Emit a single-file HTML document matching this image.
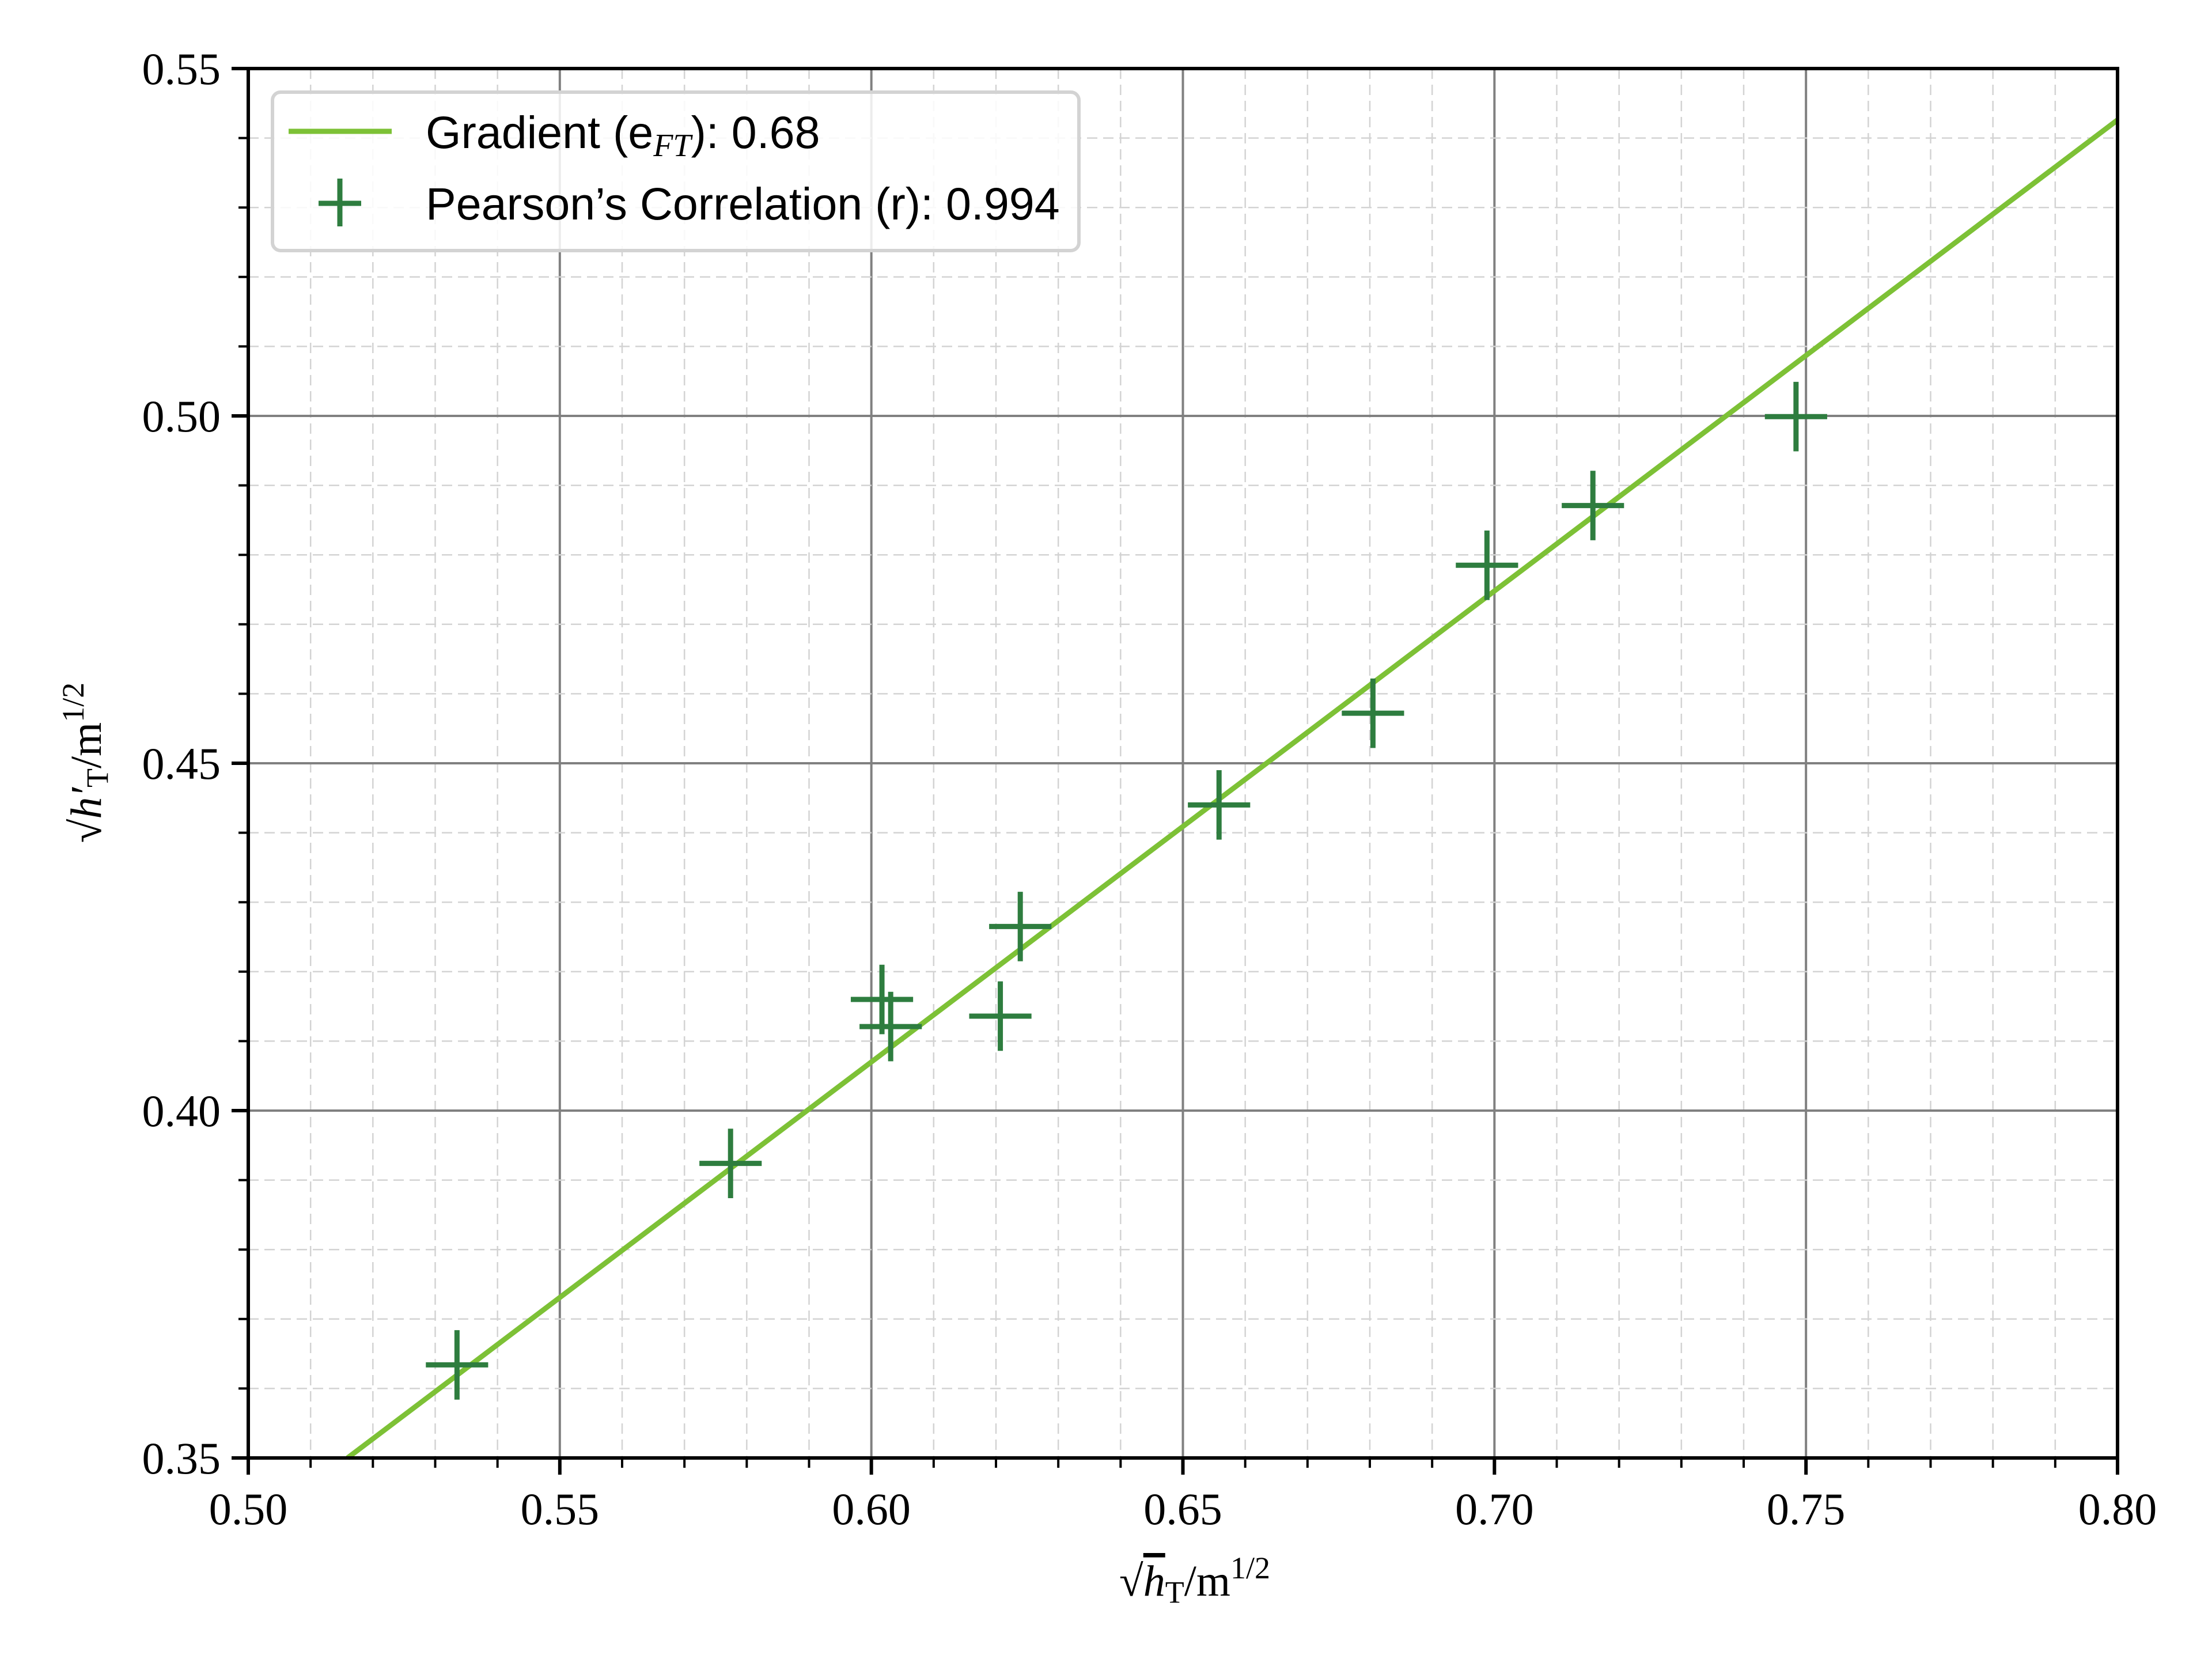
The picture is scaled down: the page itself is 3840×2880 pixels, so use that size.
<!DOCTYPE html>
<html><head><meta charset="utf-8"><style>
html,body{margin:0;padding:0;background:#fff;}
svg{display:block;}
</style></head><body>
<svg id="chart" xmlns="http://www.w3.org/2000/svg" width="3840" height="2880" viewBox="0 0 3840 2880">
<rect width="3840" height="2880" fill="#fff"/>
<g id="grid"></g>
<g id="marks"></g>
<rect x="431" y="119" width="3245" height="2412" fill="none" stroke="#000" stroke-width="6"/>
<g id="axes"></g>
<text x="2074" y="2770" font-family="Liberation Serif, serif" font-size="76" text-anchor="middle">√<tspan font-style="italic" text-decoration="overline">h</tspan><tspan font-size="54" dy="12">T</tspan><tspan dy="-12">/m</tspan><tspan font-size="54" dy="-30">1/2</tspan></text>
<text transform="translate(175,1324) rotate(-90)" font-family="Liberation Serif, serif" font-size="76" text-anchor="middle">√<tspan font-style="italic">h′</tspan><tspan font-size="54" dy="12">T</tspan><tspan dy="-12">/m</tspan><tspan font-size="54" dy="-30">1/2</tspan></text>
<g>
<rect x="473" y="160" width="1400" height="275" rx="14" fill="#fff" fill-opacity="0.85" stroke="#d3d3d3" stroke-width="6"/>
<line x1="501" y1="228" x2="680" y2="228" stroke="#7dc136" stroke-width="9"/>
<text x="739" y="257" font-family="Liberation Sans, sans-serif" font-size="79">Gradient (e<tspan font-family="Liberation Serif, serif" font-style="italic" font-size="56" dy="14">FT</tspan><tspan dy="-14">): 0.68</tspan></text>
<line x1="553" y1="353" x2="627" y2="353" stroke="#2e7d3f" stroke-width="9"/>
<line x1="590" y1="310" x2="590" y2="393" stroke="#2e7d3f" stroke-width="9"/>
<text x="739" y="381" font-family="Liberation Sans, sans-serif" font-size="79">Pearson’s Correlation (r): 0.994</text>
</g>
</svg>
<script>
const xValues = [0.5335, 0.5774, 0.6017, 0.6031, 0.6207, 0.6239, 0.6558, 0.6805, 0.6988, 0.7158, 0.7484];
const yValues = [0.3634, 0.3924, 0.4160, 0.4121, 0.4136, 0.4265, 0.4440, 0.4572, 0.4785, 0.4871, 0.4999];
const xErr = [0.005, 0.005, 0.005, 0.005, 0.005, 0.005, 0.005, 0.005, 0.005, 0.005, 0.005];
const yErr = [0.005, 0.005, 0.005, 0.005, 0.005, 0.005, 0.005, 0.005, 0.005, 0.005, 0.005];
const fitSlope = [0.678];
const fitIntercept = [0.0002];
const xTickLabels = ["0.50","0.55","0.60","0.65","0.70","0.75","0.80"];
const yTickLabels = ["0.35","0.40","0.45","0.50","0.55"];

const L=431,R=3676,T=119,B=2531;
const X0=0.5,X1=0.8,Y0=0.35,Y1=0.55;
const sx=v=>L+(v-X0)/(X1-X0)*(R-L);
const sy=v=>B-(v-Y0)/(Y1-Y0)*(B-T);
const NS="http://www.w3.org/2000/svg";
function mk(tag,parent,attrs){const e=document.createElementNS(NS,tag);for(const k in attrs)e.setAttribute(k,attrs[k]);parent.appendChild(e);return e;}
const grid=document.getElementById('grid'),marks=document.getElementById('marks'),axes=document.getElementById('axes');

for(let i=0;i<=30;i++){
  const v=X0+i*0.01,x=sx(v),major=i%5===0;
  const g=mk('line',grid,{x1:x,x2:x,y1:T,y2:B,stroke:major?'#808080':'#d3d3d3','stroke-width':major?4:2.5,'stroke-dasharray':major?'none':'18 10'});
  
  
  const t=mk('line',axes,{x1:x,x2:x,y1:B,y2:B+(major?29:17),stroke:'#000','stroke-width':major?6:4});
  
  
}
for(let i=0;i<=20;i++){
  const v=Y0+i*0.01,y=sy(v),major=i%5===0;
  const g=mk('line',grid,{x1:L,x2:R,y1:y,y2:y,stroke:major?'#808080':'#d3d3d3','stroke-width':major?4:2.5,'stroke-dasharray':major?'none':'18 10'});
  
  
  const t=mk('line',axes,{x1:L-(major?29:17),x2:L,y1:y,y2:y,stroke:'#000','stroke-width':major?6:4});
  
  
}
xTickLabels.forEach((s,i)=>{
  const t=mk('text',axes,{x:sx(X0+i*0.05),y:B+115,'font-family':'Liberation Serif, serif','font-size':78,'text-anchor':'middle'});
  t.textContent=s;
  
  
});
yTickLabels.forEach((s,i)=>{
  const t=mk('text',axes,{x:L-48,y:sy(Y0+i*0.05)+27,'font-family':'Liberation Serif, serif','font-size':78,'text-anchor':'end'});
  t.textContent=s;
  
  
});
const m=fitSlope[0],c=fitIntercept[0];
let xa=X0,xb=X1;
if(m*xa+c<Y0) xa=(Y0-c)/m;
if(m*xb+c>Y1) xb=(Y1-c)/m;
const fl=mk('line',marks,{x1:sx(xa),y1:sy(m*xa+c),x2:sx(xb),y2:sy(m*xb+c),stroke:'#7dc136','stroke-width':9});


xValues.forEach((xv,i)=>{
  const yv=yValues[i];
  const h=mk('line',marks,{x1:sx(xv-xErr[i]),x2:sx(xv+xErr[i]),y1:sy(yv),y2:sy(yv),stroke:'#2e7d3f','stroke-width':9});
  
  
  const v=mk('line',marks,{x1:sx(xv),x2:sx(xv),y1:sy(yv-yErr[i]),y2:sy(yv+yErr[i]),stroke:'#2e7d3f','stroke-width':9});
  
  
});
</script>
</body></html>
